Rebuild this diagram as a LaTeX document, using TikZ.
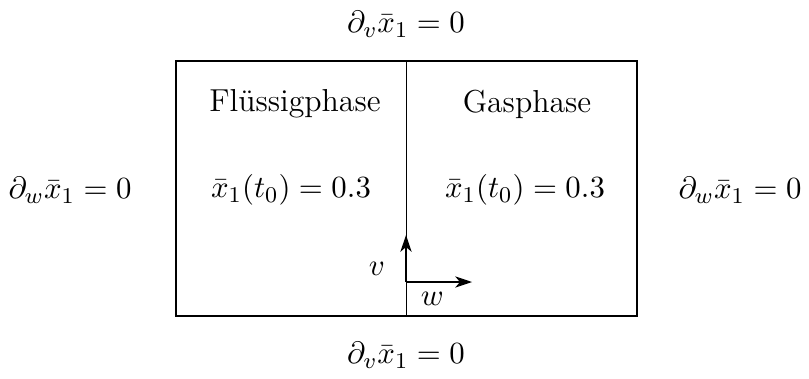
\documentclass[tikz,border=0pt]{standalone}
\usetikzlibrary{arrows.meta,positioning}

\begin{document}
\begin{tikzpicture}[x=0.0125cm,y=-0.0125cm,
    font=\fontsize{11.3}{13.5}\selectfont,
    bc/.style={inner sep=0pt},
    phase/.style={inner sep=0pt},
    axis/.style={-{Stealth[length=2.1mm,width=1.4mm,inset=0.6mm]}}]
  \useasboundingbox (0,0) rectangle (809,378);
  %% Domain
  \draw (176,61) rectangle (637,316);
  \coordinate (itop) at (406,61);
  \coordinate (ibot) at (406,316);
  \draw[line width=0.25pt] (itop) -- (ibot);
  %% Phases
  \node[phase] (liq) at (295,104) {Fl\"ussigphase};
  \node[phase] (gas) at (527,104) {Gasphase};
  \node[phase] (liqinit) at (291,190) {$\bar{x}_1(t_0) = 0.3$};
  \node[phase] (gasinit) at (525,190) {$\bar{x}_1(t_0) = 0.3$};
  %% Boundary conditions
  \node[bc] (bctop) at (406,24) {$\partial_v \bar{x}_1 = 0$};
  \node[bc] (bcbot) at (406,355) {$\partial_v \bar{x}_1 = 0$};
  \node[bc] (bcleft) at (70,190) {$\partial_w \bar{x}_1 = 0$};
  \node[bc] (bcright) at (740,190) {$\partial_w \bar{x}_1 = 0$};
  %% Coordinate system
  \coordinate (orig) at (406,282);
  \coordinate (vtip) at (406,235);
  \coordinate (wtip) at (472,282);
  \draw[axis] (orig) -- (vtip) node[pos=0.27,left=4pt] {$v$};
  \draw[axis] (orig) -- (wtip) node[pos=0.4,below=0pt] {$w$};
\end{tikzpicture}
\end{document}
